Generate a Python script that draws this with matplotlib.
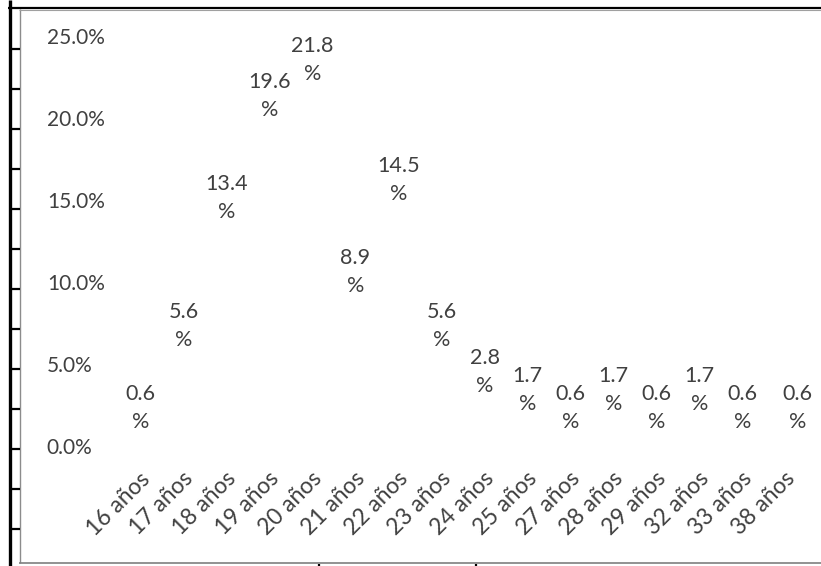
import matplotlib
matplotlib.use("Agg")
import matplotlib.pyplot as plt
from matplotlib.lines import Line2D
from matplotlib.transforms import ScaledTranslation

categories = ["16 años", "17 años", "18 años", "19 años", "20 años", "21 años",
              "22 años", "23 años", "24 años", "25 años", "27 años", "28 años",
              "29 años", "32 años", "33 años", "38 años"]
values = [0.6, 5.6, 13.4, 19.6, 21.8, 8.9, 14.5, 5.6, 2.8, 1.7, 0.6, 1.7, 0.6, 1.7, 0.6, 0.6]
yticks = [0, 5, 10, 15, 20, 25]
ytick_labels = ["0.0%", "5.0%", "10.0%", "15.0%", "20.0%", "25.0%"]

W, H = 821, 566
DPI = 100
plt.rcParams['font.family'] = ['Lato', 'DejaVu Sans']
TXT = "#404040"

fig = plt.figure(figsize=(W / DPI, H / DPI), dpi=DPI)
fig.patch.set_facecolor("white")

left_px, right_px = 119, 807
top_px, bot_px = 36, 446
ax = fig.add_axes([left_px / W, 1 - bot_px / H, (right_px - left_px) / W, (bot_px - top_px) / H])
ax.set_facecolor("none")

x = list(range(len(categories)))
bars = ax.bar(x, values, width=0.6, color="none", edgecolor="none")
ax.set_xlim(-0.5, len(categories) - 0.5)
ax.set_ylim(0, 25)

labels = ax.bar_label(bars, labels=[f"{v:.1f}\n%" for v in values], padding=3,
                      fontsize=15.5, color=TXT, linespacing=1.5)
for lab in labels:
    lab.set_multialignment("center")
# last label appears shifted to the right in the reference
labels[-1].xyann = (8.5, 3)

for s in ax.spines.values():
    s.set_visible(False)

ax.set_yticks(yticks)
ax.set_yticklabels(ytick_labels, fontsize=15, color=TXT, ha="left")
ax.tick_params(axis="y", length=0, pad=52)

ax.set_xticks(x)
ax.set_xticklabels(categories, fontsize=16.5, color=TXT, rotation=45, ha="right",
                   va="top", rotation_mode="anchor")
ax.tick_params(axis="x", length=0, pad=16)
for lab in ax.get_xticklabels():
    lab.set_transform(lab.get_transform() + ScaledTranslation(-1 / DPI, 0, fig.dpi_scale_trans))


def fline(x0, y0, x1, y1, color, lw):
    fig.add_artist(Line2D([x0 / W, x1 / W], [1 - y0 / H, 1 - y1 / H],
                          transform=fig.transFigure, color=color, lw=lw,
                          solid_capstyle="butt"))


# spreadsheet / chart frame decorations
fline(10, 0, 10, H, "black", 2.4)
fline(19.5, 9, 19.5, 563, "#8c8c8c", 1.0)
fline(8, 8, W, 8, "black", 1.6)
fline(19, 10, W, 10, "#a0a0a0", 0.8)
fline(19, 563, W, 563, "#7f7f7f", 1.2)
for yy in range(49, 560, 40):
    fline(9, yy, 19.5, yy, "black", 1.6)
fline(319, 563.5, 319, H, "black", 1.6)
fline(476, 563.5, 476, H, "black", 1.6)

fig.savefig("out.png", dpi=DPI)
